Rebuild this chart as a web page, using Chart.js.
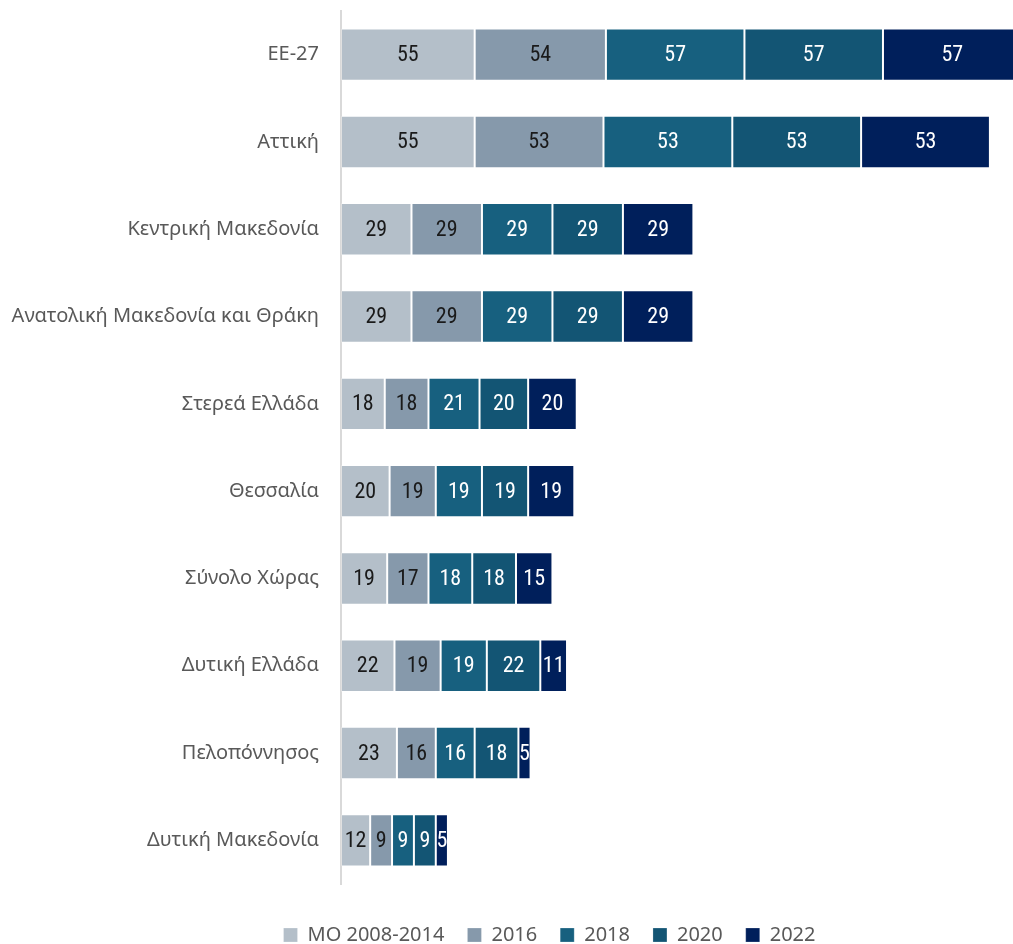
<!DOCTYPE html>
<html>
<head>
<meta charset="utf-8">
<script src="https://cdn.jsdelivr.net/npm/chart.js@4.4.1/dist/chart.umd.min.js"></script>
<style>
  html, body { margin: 0; padding: 0; background: #fff; }
  #wrap { width: 1013px; height: 944px; position: relative; }
</style>
</head>
<body>
<div id="wrap"><canvas id="grafico"></canvas></div>
<script>
const regiones = ['ΕΕ-27', 'Αττική', 'Κεντρική Μακεδονία', 'Ανατολική Μακεδονία και Θράκη', 'Στερεά Ελλάδα',
    'Θεσσαλία', 'Σύνολο Χώρας', 'Δυτική Ελλάδα', 'Πελοπόννησος', 'Δυτική Μακεδονία'];
const seriesNombres = ['ΜΟ 2008-2014', '2016', '2018', '2020', '2022'];
const mo2008 = [55, 55, 29, 29, 18, 20, 19, 22, 23, 12];
const v2016 = [54, 53, 29, 29, 18, 19, 17, 19, 16, 9];
const v2018 = [57, 53, 29, 29, 21, 19, 18, 19, 16, 9];
const v2020 = [57, 53, 29, 29, 20, 19, 18, 22, 18, 9];
const v2022 = [57, 53, 29, 29, 20, 19, 15, 11, 5, 5];
const colores = ['#b4bfc9', '#8699ab', '#17607f', '#135574', '#001f5b'];
const coloresTexto = ['#1a1a1a', '#1a1a1a', '#ffffff', '#ffffff', '#ffffff'];

// Etiquetas dentro de cada segmento
const etiquetasPlugin = {
    id: 'etiquetas',
    afterDatasetsDraw(chart) {
        const ctx = chart.ctx;
        const area = chart.chartArea;
        ctx.save();
        ctx.beginPath();
        ctx.rect(area.left, area.top, area.right - area.left, area.bottom - area.top);
        ctx.clip();
        ctx.font = '22px "Liberation Sans Narrow", "Roboto Condensed", sans-serif';
        ctx.textAlign = 'center';
        ctx.textBaseline = 'middle';
        chart.data.datasets.forEach((ds, i) => {
            const meta = chart.getDatasetMeta(i);
            meta.data.forEach((bar, j) => {
                const x = (bar.x + bar.base) / 2;
                ctx.fillStyle = coloresTexto[i];
                ctx.fillText(String(ds.data[j]), x, bar.y + 1);
            });
        });
        ctx.restore();
    }
};

// Mover la leyenda un poco a la derecha y hacia abajo
const leyendaPlugin = {
    id: 'moverLeyenda',
    afterLayout(chart) {
        const ley = chart.legend;
        if (!ley) return;
        ley.left += 43;
        ley.right += 43;
        ley.top += 11;
        ley.bottom += 11;
    }
};

const valores = [mo2008, v2016, v2018, v2020, v2022];

new Chart(document.getElementById('grafico'), {
    type: 'bar',
    data: {
        labels: regiones,
        datasets: seriesNombres.map((nombre, i) => ({
            label: nombre,
            data: valores[i],
            backgroundColor: colores[i],
            borderColor: 'rgba(255,255,255,0.22)',
            borderWidth: 1,
            borderSkipped: false,
            categoryPercentage: 1,
            barPercentage: 0.6
        }))
    },
    options: {
        indexAxis: 'y',
        responsive: true,
        maintainAspectRatio: false,
        animation: false,
        layout: {
            padding: { top: 11, right: 0, bottom: 0, left: 0 }
        },
        plugins: {
            legend: {
                position: 'bottom',
                labels: {
                    boxWidth: 14,
                    boxHeight: 14,
                    padding: 23,
                    color: '#595959',
                    font: { family: '"Noto Sans", sans-serif', size: 20 }
                }
            },
            tooltip: { enabled: false }
        },
        scales: {
            x: {
                stacked: true,
                min: 0,
                max: 276.5,
                grid: { display: false, drawTicks: false },
                border: { display: false },
                ticks: { display: false },
                afterFit(scale) {
                    scale.height = 7;
                }
            },
            y: {
                stacked: true,
                grid: { display: false, drawTicks: false },
                border: { display: true, color: '#d9d9d9', width: 2 },
                ticks: {
                    padding: 22,
                    color: '#595959',
                    font: { family: '"Noto Sans", sans-serif', size: 20 }
                },
                afterFit(scale) {
                    scale.width = 341;
                    scale.paddingTop = 0;
                    scale.paddingBottom = 0;
                }
            }
        }
    },
    plugins: [etiquetasPlugin, leyendaPlugin]
});
</script>
</body>
</html>
